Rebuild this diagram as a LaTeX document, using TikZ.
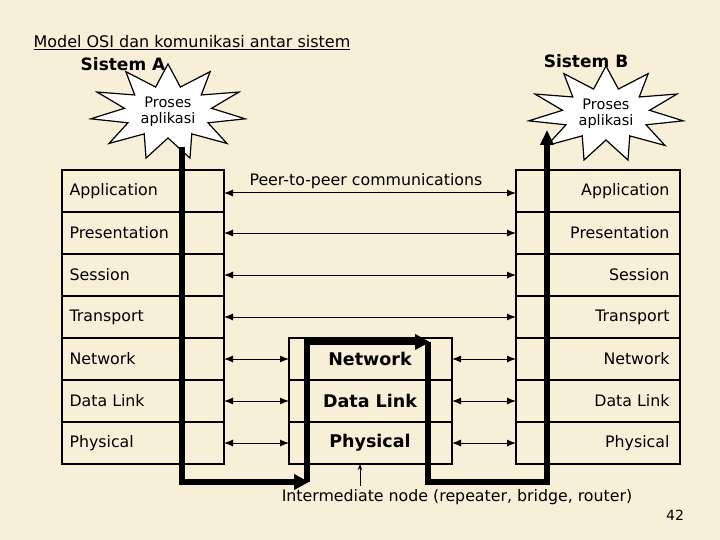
\documentclass[tikz,border=0pt]{standalone}
\usepackage{fontspec}
\setmainfont{DejaVu Sans}
\usetikzlibrary{arrows.meta}
\definecolor{bg}{HTML}{F8EFD8}
\begin{document}
\begin{tikzpicture}[x=1pt,y=-1pt,
  box/.style={draw,line width=1.2pt},
  lbl/.style={font=\fontsize{15.8}{17}\selectfont},
  big/.style={font=\bfseries\fontsize{17.5}{19}\selectfont},
  dbl/.style={{Latex[length=9pt,width=7pt]}-{Latex[length=9pt,width=7pt]},line width=1pt},
  thick path/.style={line width=6pt},
  startxt/.style={align=center,font=\fontsize{14.5}{16}\selectfont,inner sep=0pt}]
\useasboundingbox[fill=bg] (0,0) rectangle (720,540);
% title
\node[anchor=west,font=\fontsize{16}{18}\selectfont] (title) at (30,43) {\underline{Model OSI dan komunikasi antar sistem}};
\node[font=\bfseries\fontsize{17}{19}\selectfont] (sa) at (123,64) {Sistem A};
\node[font=\bfseries\fontsize{17}{19}\selectfont] (sb) at (586,61) {Sistem B};
% stacks
\foreach \i/\n in {0/Application,1/Presentation,2/Session,3/Transport,4/Network,5/Data Link,6/Physical}{
  \draw[box] (62,170+42*\i) rectangle (224,212+42*\i);
  \draw[box] (516,170+42*\i) rectangle (680,212+42*\i);
  \node[lbl,anchor=west] (L\i) at (66,191+42*\i) {\n};
  \node[lbl,anchor=east] (R\i) at (673,191+42*\i) {\n};
}
\foreach \i/\n in {4/Network,5/Data Link,6/Physical}{
  \draw[box] (289,170+42*\i) rectangle (452,212+42*\i);
  \node[big] (M\i) at (370,191+42*\i) {\n};
}
\coordinate (La) at (224,193); \coordinate (Ra) at (516,193);
\draw[dbl] (La) -- (Ra);
\node[lbl,anchor=west] (p2p) at (246,181) {Peer-to-peer communications};
\foreach \i in {1,2,3}{
  \coordinate (l\i) at (224,191+42*\i); \coordinate (r\i) at (516,191+42*\i);
  \draw[dbl] (l\i) -- (r\i);}
\foreach \i in {4,5,6}{
  \coordinate (l\i) at (224,191+42*\i); \coordinate (m\i) at (289,191+42*\i);
  \coordinate (n\i) at (452,191+42*\i); \coordinate (r\i) at (516,191+42*\i);
  \draw[dbl] (l\i) -- (m\i); \draw[dbl] (n\i) -- (r\i);}
% stars
\foreach \cx/\cy/\nm in {168/112/starA,606/114/starB}{
  \draw[fill=white,line width=1.2pt] plot[samples=23,domain=0:22,variable=\k]
    ({\cx+(mod(\k,2)==0 ? 78 : 44)*cos(90+\k*360/22)}, {\cy-(mod(\k,2)==0 ? 48 : 26)*sin(90+\k*360/22)}) -- cycle;
  \node[startxt] (\nm) at (\cx,\cy) {Proses\\aplikasi};
}
% data path
\coordinate (a0) at (182,147); \coordinate (a1) at (182,482); \coordinate (a2) at (307,482);
\coordinate (a3) at (307,342); \coordinate (a4) at (428,342);
\coordinate (b0) at (428,342); \coordinate (b1) at (428,482); \coordinate (b2) at (547,482); \coordinate (b3) at (547,130);
\draw[thick path,-{Triangle[length=15pt,width=15pt]}] (a0) -- (a1) -- ([xshift=2pt]a2);
\draw[thick path,-{Triangle[length=15pt,width=15pt]}] (a2) -- (a3) -- ([xshift=2pt]a4);
\draw[thick path,-{Triangle[length=15pt,width=13pt]}] (b0) -- (b1) -- (b2) -- (b3);
% intermediate label
\node[lbl] (inter) at (457,497) {Intermediate node (repeater, bridge, router)};
\coordinate (i1) at (360,464);
\draw[-{Stealth[length=6pt]},line width=1pt] (inter.north -| i1) -- (i1);
\node[font=\fontsize{14}{16}\selectfont] (pg) at (675,515) {42};
\end{tikzpicture}
\end{document}
